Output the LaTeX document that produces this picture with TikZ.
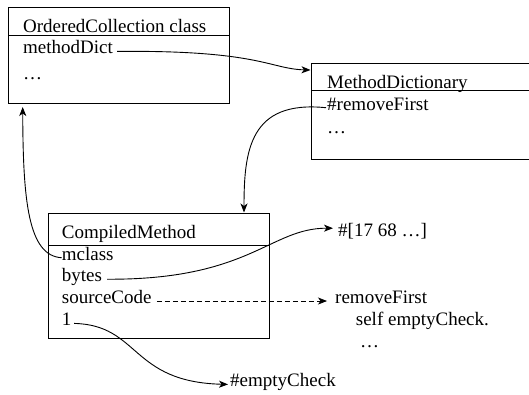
\documentclass[tikz,border=0pt]{standalone}
\usepackage{fontspec}
\setmainfont{Liberation Serif}
\usetikzlibrary{arrows.meta}
\begin{document}
\begin{tikzpicture}[x=1pt, y=-1pt,
  lbl/.style={anchor=base west, inner sep=0pt, font=\fontsize{19}{22}\selectfont},
  box/.style={draw, line width=1pt, inner sep=0pt, anchor=north west},
  frame/.style={line width=1pt},
  link/.style={line width=0.9pt, -{Stealth[length=9pt,width=7pt,inset=2.5pt]}}]
\useasboundingbox (0,0) rectangle (529,394);

% OrderedCollection class
\node[box, minimum width=220.7pt, minimum height=96pt] (b1) at (8.3,7.3) {};
\draw[frame] (b1.west |- 0,35) -- (b1.east |- 0,35);
\node[lbl] (oc) at (23,32.7) {OrderedCollection class};
\node[lbl] (md) at (23,53.7) {methodDict};
\node[lbl] (d1) at (23,79) {\dots};

% MethodDictionary (runs off the right edge)
\draw[frame] (535,63.3) -- (311.7,63.3) -- (311.7,159.3) -- (535,159.3);
\draw[frame] (311.7,90.7) -- (535,90.7);
\node[lbl] (mdict) at (327,88) {MethodDictionary};
\node[lbl] (rf) at (327,110) {\#removeFirst};
\node[lbl] (d2) at (327,133) {\dots};

% CompiledMethod
\node[box, minimum width=220.4pt, minimum height=124.4pt] (b3) at (48.3,213.3) {};
\draw[frame] (b3.west |- 0,245) -- (b3.east |- 0,245);
\node[lbl] (cm) at (61.7,238.3) {CompiledMethod};
\node[lbl] (mc) at (61.7,260) {mclass};
\node[lbl] (by) at (61.7,281.5) {bytes};
\node[lbl] (sc) at (61.7,303.3) {sourceCode};
\node[lbl] (one) at (61.7,325.7) {1};

% targets
\node[lbl] (arr) at (338,236.7) {\#[17 68 \dots]};
\node[lbl] (src) at (335,303.3) {removeFirst};
\node[lbl] (src2) at (355.7,325) {self emptyCheck.};
\node[lbl] (d3) at (360,347) {\dots};
\node[lbl] (ec) at (230,386.7) {\#emptyCheck};

% arrow end points on box edges
\coordinate (b2in) at (310.5,70);
\coordinate (b3in) at (244,212.5);
\coordinate (b1in) at (22.7,107);

% connectors
\draw[link] ([xshift=4pt]md.mid east) .. controls (260,50) and (270,69) .. (b2in);
\draw[link] ([xshift=-1pt]rf.mid west) .. controls (250,100) and (244,150) .. (b3in);
\draw[link] (mc.mid west) .. controls (28,256) and (23,200) .. (b1in);
\draw[link] ([xshift=5pt]by.mid east) .. controls (250,280) and (270,228) .. ([xshift=-5pt,yshift=8.5pt]arr.base west);
\draw[link, line width=0.8pt, dash pattern=on 5pt off 3pt] ([xshift=5pt]sc.mid east) -- ([xshift=-8pt]src.mid west);
\draw[link] ([xshift=2.5pt]one.mid east) .. controls (140,325) and (130,382) .. ([xshift=-2pt]ec.mid west);
\end{tikzpicture}
\end{document}
